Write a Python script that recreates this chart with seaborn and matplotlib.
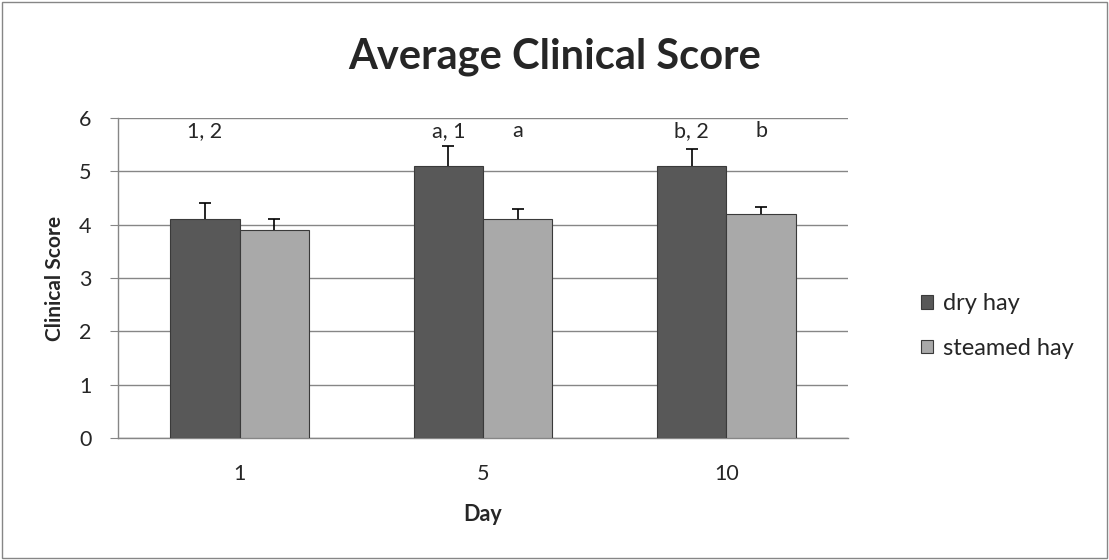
import pandas as pd
import seaborn as sns
import matplotlib.pyplot as plt
from matplotlib.patches import Rectangle

# data
days = ['1', '5', '10']
hay_types = ['dry hay', 'steamed hay']
dry_mean = [4.1, 5.1, 5.1]
steamed_mean = [3.9, 4.1, 4.2]
dry_err = [0.3, 0.37, 0.33]
steamed_err = [0.2, 0.2, 0.14]
letters_dry = ['1, 2', 'a, 1', 'b, 2']
letters_steamed = ['', 'a', 'b']
y_ticks = [0, 1, 2, 3, 4, 5, 6]

df = pd.DataFrame({
    'Day': days * 2,
    'hay': [hay_types[0]] * 3 + [hay_types[1]] * 3,
    'score': dry_mean + steamed_mean,
})

sns.set_style('white')
plt.rcParams['font.family'] = ['Lato', 'DejaVu Sans']

fig = plt.figure(figsize=(11.09, 5.6), dpi=100)
ax = fig.add_axes([0.1064, 0.2179, 0.6583, 0.5711])

sns.barplot(data=df, x='Day', y='score', hue='hay', order=days, hue_order=hay_types,
            palette=['#585858', '#a9a9a9'], width=0.57, gap=0, errorbar=None,
            edgecolor='#3a3a3a', linewidth=0.8, ax=ax, zorder=3)

# upward-only error bars at the bar centres seaborn drew
errs = dry_err + steamed_err
means = dry_mean + steamed_mean
for patch, m, e in zip(ax.patches[:6], means, errs):
    cx = patch.get_x() + patch.get_width() / 2
    _, caps, _ = ax.errorbar(cx, m, yerr=[[0], [e]], fmt='none', ecolor='black',
                             elinewidth=1.2, capsize=4, capthick=1.2, zorder=4)
    caps[0].set_visible(False)

# significance letters
labels = letters_dry + letters_steamed
for patch, txt in zip(ax.patches[:6], labels):
    if txt:
        cx = patch.get_x() + patch.get_width() / 2
        ax.text(cx, 5.76, txt, ha='center', va='center', fontsize=15.5)

ax.set_ylim(0, 6)
ax.set_xlim(-0.5, 2.5)
ax.set_yticks(y_ticks)
ax.yaxis.grid(True, color='#868686', linewidth=1)
ax.set_axisbelow(True)
for s in ['top', 'right']:
    ax.spines[s].set_visible(False)
for s in ['left', 'bottom']:
    ax.spines[s].set_color('#868686')
    ax.spines[s].set_linewidth(1)

# Excel-style ticks between categories
ax.set_xticks([0, 1, 2])
ax.set_xticks([-0.5, 0.5, 1.5, 2.5], minor=True)
ax.tick_params(axis='x', which='major', length=0, labelsize=15.5, pad=19)
ax.tick_params(axis='x', which='minor', length=6, color='#868686', direction='out')
ax.tick_params(axis='y', length=6, color='#868686', direction='out', labelsize=15.5,
               pad=13, left=True)

ax.set_xlabel('Day', fontsize=15.5, fontweight='bold', labelpad=14)
ax.set_ylabel('Clinical Score', fontsize=15, fontweight='bold', labelpad=10)

fig.text(0.5, 1 - 68 / 560, 'Average Clinical Score', ha='center', va='baseline',
         fontsize=30, fontweight='bold')

ax.legend(loc='center left', bbox_to_anchor=(1.0997, 0.35), frameon=False,
          borderaxespad=0, borderpad=0, fontsize=17, handlelength=0.5,
          handleheight=0.5, handletextpad=0.45, labelspacing=1.0)

fig.patches.append(Rectangle((0.002, 0.003), 0.996, 0.994, transform=fig.transFigure,
                             fill=False, edgecolor='#868686', linewidth=1))

fig.savefig('out.png', dpi=100)
